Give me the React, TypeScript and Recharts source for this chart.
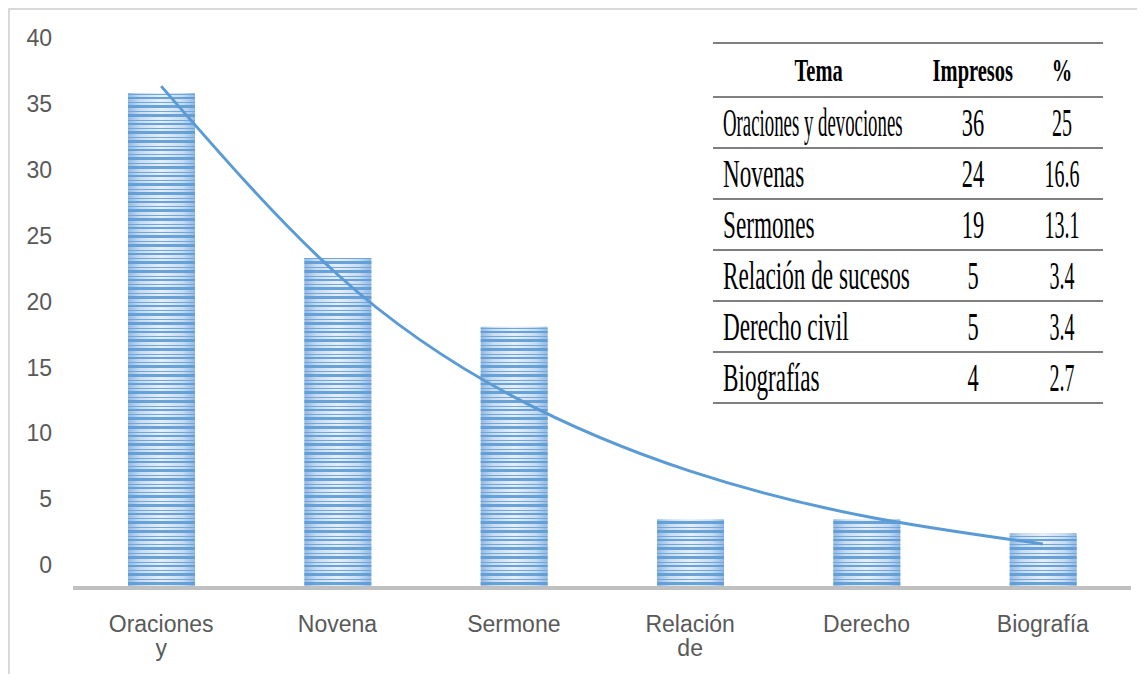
import React from 'react';
import { ComposedChart, Bar, Line, XAxis, YAxis } from 'recharts';

// categorías del eje (texto tal como se ve, cortado)
const categories = ['Oraciones y', 'Novena', 'Sermone', 'Relación de', 'Derecho', 'Biografía'];
const impresos = [36, 24, 19, 5, 5, 4];
// línea de tendencia
const tendencia = [36.5, 22.8, 13.9, 8.5, 5.2, 3.2];
const yTicks = [0, 5, 10, 15, 20, 25, 30, 35, 40];

// tabla superpuesta
const tableHeader = ['Tema', 'Impresos', '%'];
const temas = ['Oraciones y devociones', 'Novenas', 'Sermones', 'Relación de sucesos', 'Derecho civil', 'Biografías'];
const tablaImpresos = ['36', '24', '19', '5', '5', '4'];
const porcentajes = ['25', '16.6', '13.1', '3.4', '3.4', '2.7'];

const data = categories.map((label, i) => ({
  label,
  impresos: impresos[i],
  tendencia: tendencia[i],
}));

const sans = '"Liberation Sans", Arial, sans-serif';
const serif = '"Liberation Serif", "Times New Roman", serif';
const lineGray = '#7f7f7f';

const CategoryTick = ({ x, y, payload }: any) => {
  const lines = String(payload.value).split(' ');
  return (
    <text x={x} y={y} textAnchor="middle" fill="#595959" fontSize={23} fontFamily={sans}>
      {lines.map((line, i) => (
        <tspan key={i} x={x} dy={i === 0 ? 36 : 24}>{line}</tspan>
      ))}
    </text>
  );
};

const ValueTick = ({ x, y, payload }: any) => (
  <text x={x} y={y} dy="0.355em" textAnchor="end" fill="#595959" fontSize={23} fontFamily={sans}>
    {payload.value}
  </text>
);

const StripedBar = ({ x, y, width, height }: any) => (
  <g>
    <rect x={x} y={y} width={width} height={height} fill="url(#barGlow)" />
    <rect x={x} y={y} width={width} height={height} fill="url(#barStripes)" />
  </g>
);

const colWidths = [212, 95, 83];

// compresión horizontal del texto de la tabla (como en la imagen original)
const squeeze = (text: string, col: number, header?: boolean) => {
  if (header) return 0.64;
  if (col === 2) return 0.5;
  if (col === 1) return 0.56;
  return text.length > 20 ? 0.47 : 0.58;
};

const TableRow = ({ cells, header }: { cells: string[]; header?: boolean }) => (
  <div style={{ display: 'flex', borderTop: `2px solid ${lineGray}`, height: header ? 52 : 49 }}>
    {cells.map((c, i) => {
      const leftAlign = !header && i === 0;
      return (
        <div
          key={i}
          style={{
            width: colWidths[i],
            display: 'flex',
            alignItems: 'center',
            justifyContent: leftAlign ? 'flex-start' : 'center',
            paddingLeft: leftAlign ? 10 : 0,
            boxSizing: 'border-box',
          }}
        >
          <span
            style={{
              display: 'inline-block',
              whiteSpace: 'nowrap',
              fontSize: header ? 32 : 40,
              lineHeight: 1,
              fontWeight: header ? 'bold' : 'normal',
              transform: `scaleX(${squeeze(c, i, header)})`,
              transformOrigin: leftAlign ? 'left center' : 'center center',
            }}
          >
            {c}
          </span>
        </div>
      );
    })}
  </div>
);

const Tabla = () => (
  <div
    style={{
      position: 'absolute',
      left: 703,
      top: 32,
      width: 390,
      fontFamily: serif,
      color: '#000',
      background: '#fff',
      borderBottom: `2px solid ${lineGray}`,
    }}
  >
    <TableRow cells={tableHeader} header />
    {temas.map((t, i) => (
      <TableRow key={t} cells={[t, tablaImpresos[i], porcentajes[i]]} />
    ))}
  </div>
);

export default function App() {
  return (
    <div
      style={{
        position: 'relative',
        width: 1137,
        height: 666,
        borderTop: '2px solid #d9d9d9',
        borderLeft: '2px solid #d9d9d9',
        boxSizing: 'border-box',
        background: '#fff',
      }}
    >
      <style>{'html,body{overflow:hidden}'}</style>
      <ComposedChart
        width={1135}
        height={664}
        data={data}
        margin={{ top: 28, right: 14, bottom: 26, left: 0 }}
      >
        <defs>
          <linearGradient id="barGlow" x1="0" y1="0" x2="1" y2="0">
            <stop offset="0%" stopColor="#92b9e3" />
            <stop offset="18%" stopColor="#c8dbf0" />
            <stop offset="50%" stopColor="#e6eff9" />
            <stop offset="82%" stopColor="#c8dbf0" />
            <stop offset="100%" stopColor="#92b9e3" />
          </linearGradient>
          <pattern id="barStripes" patternUnits="userSpaceOnUse" width={10} height={26}>
            <rect x={0} y={0} width={10} height={3} fill="#5b9bd5" opacity={0.9} />
            <rect x={0} y={6} width={10} height={1} fill="#6fa6dc" />
            <rect x={0} y={9} width={10} height={2} fill="#5b9bd5" opacity={0.9} />
            <rect x={0} y={14} width={10} height={1} fill="#6fa6dc" />
            <rect x={0} y={17} width={10} height={3} fill="#5b9bd5" opacity={0.9} />
            <rect x={0} y={23} width={10} height={1} fill="#6fa6dc" />
          </pattern>
        </defs>
        <XAxis
          dataKey="label"
          height={60}
          axisLine={{ stroke: '#c0c0c0', strokeWidth: 4 }}
          tickLine={false}
          tick={<CategoryTick />}
          interval={0}
        />
        <YAxis yAxisId="bars" hide width={0} domain={[0, 40]} allowDataOverflow />
        <YAxis
          yAxisId="labels"
          width={63}
          domain={[-1.75, 40]}
          ticks={yTicks}
          allowDataOverflow
          axisLine={false}
          tickLine={false}
          tickMargin={15}
          tick={<ValueTick />}
        />
        <Bar
          yAxisId="bars"
          dataKey="impresos"
          barSize={67}
          shape={<StripedBar />}
          isAnimationActive={false}
        />
        <Line
          yAxisId="bars"
          dataKey="tendencia"
          type="natural"
          stroke="#5b9bd5"
          strokeWidth={3}
          dot={false}
          activeDot={false}
          isAnimationActive={false}
        />
      </ComposedChart>
      <Tabla />
    </div>
  );
}
